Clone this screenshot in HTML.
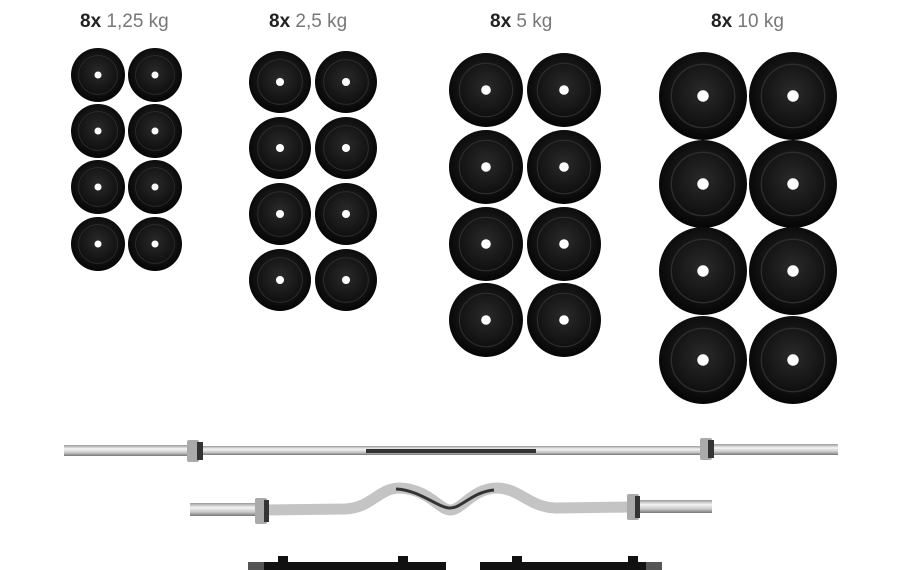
<!DOCTYPE html>
<html><head><meta charset="utf-8"><style>
html,body{margin:0;padding:0;background:#fff;width:900px;height:570px;overflow:hidden}
svg{display:block}
text{font-family:"Liberation Sans",sans-serif;font-size:19px}
</style></head><body>
<svg width="900" height="570" viewBox="0 0 900 570" xmlns="http://www.w3.org/2000/svg">
<defs>
<radialGradient id="pg" cx="50%" cy="45%" r="55%">
<stop offset="0" stop-color="#2a2a2a"/><stop offset="0.7" stop-color="#111"/><stop offset="1" stop-color="#050505"/>
</radialGradient>
<linearGradient id="bar" x1="0" y1="0" x2="0" y2="1">
<stop offset="0" stop-color="#9a9a9a"/><stop offset="0.35" stop-color="#f4f4f4"/><stop offset="0.7" stop-color="#c8c8c8"/><stop offset="1" stop-color="#777"/>
</linearGradient>
<g id="p"><circle r="1" fill="url(#pg)"/><circle r="0.72" fill="none" stroke="#2e2e2e" stroke-width="0.03"/><circle r="0.13" fill="#fff"/></g>
</defs>
<g font-weight="bold" fill="#222">
<text x="80" y="27">8x <tspan font-weight="normal" fill="#777">1,25 kg</tspan></text>
<text x="269" y="27">8x <tspan font-weight="normal" fill="#777">2,5 kg</tspan></text>
<text x="490" y="27">8x <tspan font-weight="normal" fill="#777">5 kg</tspan></text>
<text x="711" y="27">8x <tspan font-weight="normal" fill="#777">10 kg</tspan></text>
</g>
<g>
<use href="#p" transform="translate(98,75) scale(27)"/><use href="#p" transform="translate(155,75) scale(27)"/>
<use href="#p" transform="translate(98,131) scale(27)"/><use href="#p" transform="translate(155,131) scale(27)"/>
<use href="#p" transform="translate(98,187) scale(27)"/><use href="#p" transform="translate(155,187) scale(27)"/>
<use href="#p" transform="translate(98,244) scale(27)"/><use href="#p" transform="translate(155,244) scale(27)"/>

<use href="#p" transform="translate(280,82) scale(31)"/><use href="#p" transform="translate(346,82) scale(31)"/>
<use href="#p" transform="translate(280,148) scale(31)"/><use href="#p" transform="translate(346,148) scale(31)"/>
<use href="#p" transform="translate(280,214) scale(31)"/><use href="#p" transform="translate(346,214) scale(31)"/>
<use href="#p" transform="translate(280,280) scale(31)"/><use href="#p" transform="translate(346,280) scale(31)"/>

<use href="#p" transform="translate(486,90) scale(37)"/><use href="#p" transform="translate(564,90) scale(37)"/>
<use href="#p" transform="translate(486,167) scale(37)"/><use href="#p" transform="translate(564,167) scale(37)"/>
<use href="#p" transform="translate(486,244) scale(37)"/><use href="#p" transform="translate(564,244) scale(37)"/>
<use href="#p" transform="translate(486,320) scale(37)"/><use href="#p" transform="translate(564,320) scale(37)"/>

<use href="#p" transform="translate(703,96) scale(44)"/><use href="#p" transform="translate(793,96) scale(44)"/>
<use href="#p" transform="translate(703,184) scale(44)"/><use href="#p" transform="translate(793,184) scale(44)"/>
<use href="#p" transform="translate(703,271) scale(44)"/><use href="#p" transform="translate(793,271) scale(44)"/>
<use href="#p" transform="translate(703,360) scale(44)"/><use href="#p" transform="translate(793,360) scale(44)"/>
</g>
<!-- straight bar -->
<rect x="64" y="445" width="130" height="11" fill="url(#bar)"/>
<rect x="194" y="446" width="520" height="9" fill="url(#bar)"/>
<rect x="714" y="444" width="124" height="11" fill="url(#bar)"/>
<rect x="366" y="449" width="170" height="4" fill="#333"/>
<rect x="187" y="440" width="12" height="22" rx="2" fill="#aaa"/><rect x="197" y="442" width="6" height="18" fill="#333"/>
<rect x="700" y="438" width="12" height="22" rx="2" fill="#aaa"/><rect x="708" y="440" width="6" height="18" fill="#333"/>
<!-- curl bar -->
<rect x="190" y="503" width="70" height="13" fill="url(#bar)"/>
<rect x="636" y="500" width="76" height="13" fill="url(#bar)"/>
<path d="M266 510 L345 509 C372 508 378 488 400 488 C428 489 440 510 450 510 C462 510 472 489 496 488 C520 488 528 507 556 508 L632 507" fill="none" stroke="#c4c4c4" stroke-width="11"/>
<path d="M396 489 C420 490 438 508 450 508 C462 508 472 492 494 490" fill="none" stroke="#333" stroke-width="3"/>
<rect x="255" y="498" width="12" height="26" rx="2" fill="#aaa"/><rect x="264" y="500" width="5" height="22" fill="#333"/>
<rect x="627" y="494" width="12" height="26" rx="2" fill="#aaa"/><rect x="635" y="496" width="5" height="22" fill="#333"/>
<!-- dumbbell handles -->
<rect x="248" y="562" width="198" height="8" fill="#111"/>
<rect x="480" y="562" width="182" height="8" fill="#111"/>
<rect x="278" y="556" width="10" height="14" fill="#111"/><rect x="398" y="556" width="10" height="14" fill="#111"/>
<rect x="512" y="556" width="10" height="14" fill="#111"/><rect x="628" y="556" width="10" height="14" fill="#111"/>
<rect x="248" y="562" width="16" height="8" fill="#555"/><rect x="646" y="562" width="16" height="8" fill="#555"/>
</svg>
</body></html>
